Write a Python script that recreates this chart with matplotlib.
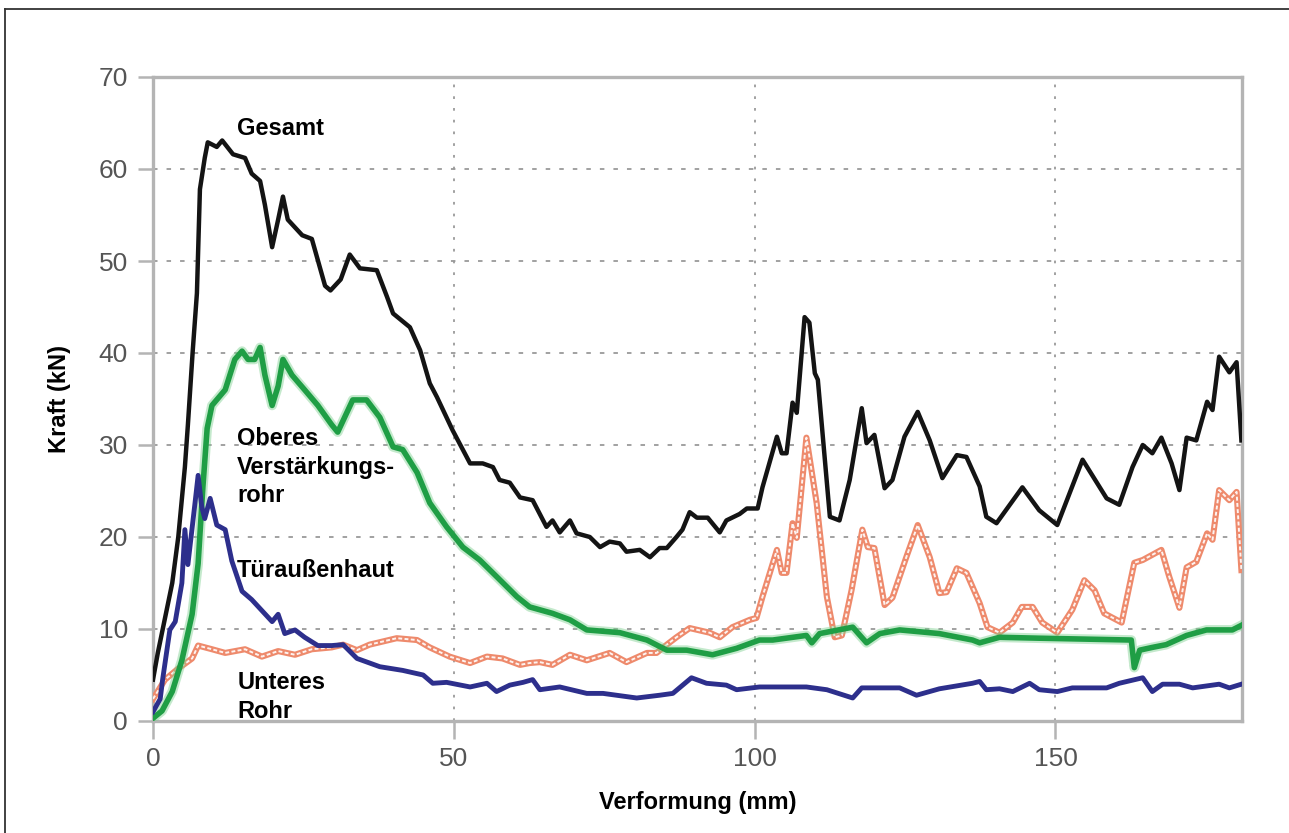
import matplotlib
matplotlib.use("Agg")
import matplotlib.pyplot as plt
from matplotlib.lines import Line2D

# ---------------- data ----------------
gesamt_x = [0, 0.8, 2.0, 3.2, 4.2, 5.3, 5.8, 6.6, 7.3, 7.8, 8.6, 9.1, 10.6, 11.5, 13.3, 15.3,
            16.4, 17.8, 18.6, 19.8, 20.8, 21.6, 22.4, 24.8, 26.4, 28.6, 29.5, 31.2, 32.7, 34.4,
            37.2, 38.9, 39.9, 42.7, 44.4, 46.0, 47.2, 49.8, 52.7, 54.8, 56.5, 57.6, 59.3, 61.0,
            63.1, 65.4, 66.4, 67.6, 69.3, 70.4, 72.6, 74.3, 75.9, 77.6, 78.7, 80.9, 82.6, 84.2,
            85.4, 87.0, 88.0, 89.2, 90.4, 92.2, 94.2, 95.3, 97.5, 98.7, 100.5, 101.3, 103.7,
            104.5, 105.3, 106.3, 107.0, 108.3, 109.1, 110.0, 110.5, 112.5, 114.1, 115.8, 117.8,
            118.6, 119.9, 121.6, 122.9, 124.9, 127.1, 129.1, 131.2, 133.6, 135.2, 137.4, 138.5,
            140.2, 144.5, 147.3, 150.3, 154.5, 158.5, 160.6, 162.8, 164.5, 166.1, 167.6, 169.3,
            170.6, 171.8, 173.4, 175.2, 176.1, 177.2, 178.9, 180.1, 180.9]
gesamt_y = [4.5, 7.4, 11.2, 15.0, 20.0, 27.6, 32.2, 40.2, 46.5, 57.8, 61.2, 62.9, 62.4, 63.1, 61.6, 61.2,
            59.5, 58.7, 56.1, 51.5, 54.5, 57.0, 54.5, 52.8, 52.4, 47.3, 46.8, 48.0, 50.7, 49.2,
            49.0, 46.1, 44.3, 42.8, 40.3, 36.7, 35.2, 31.6, 28.0, 28.0, 27.6, 26.2, 25.9, 24.3,
            24.0, 21.1, 21.8, 20.5, 21.8, 20.4, 20.0, 18.9, 19.5, 19.3, 18.4, 18.6, 17.8, 18.8,
            18.8, 20.0, 20.8, 22.7, 22.1, 22.1, 20.5, 21.8, 22.5, 23.1, 23.1, 25.4, 30.9,
            29.1, 29.1, 34.6, 33.5, 43.9, 43.3, 37.8, 37.1, 22.2, 21.8, 26.2, 34.0,
            30.2, 31.1, 25.3, 26.2, 30.9, 33.6, 30.5, 26.4, 28.9, 28.7, 25.5, 22.2,
            21.5, 25.4, 22.9, 21.3, 28.4, 24.2, 23.5, 27.6, 30.0, 29.1, 30.8, 28.0,
            25.1, 30.8, 30.5, 34.7, 33.8, 39.6, 37.9, 39.0, 30.5]

oberes_x = [0, 1.5, 3.2, 4.8, 6.5, 7.5, 8.3, 9.0, 9.8, 12.0, 13.6, 14.8, 15.8, 16.9, 17.8, 18.6,
            19.8, 20.8, 21.6, 23.1, 25.2, 27.4, 29.7, 30.7, 33.2, 35.5, 37.7, 39.9, 41.5, 43.9,
            46.0, 48.8, 51.5, 54.3, 57.1, 60.5, 62.6, 66.4, 69.3, 72.1, 77.6, 82.1, 85.4, 88.7,
            93.0, 97.0, 100.8, 103.0, 108.6, 109.5, 110.8, 116.3, 118.6, 120.8, 124.1, 130.7,
            136.2, 137.4, 140.7, 147.3, 162.6, 163.1, 164.0, 166.1, 168.4, 171.8, 175.1, 179.4,
            180.9]
oberes_y = [0.3, 1.1, 3.2, 6.6, 11.6, 17.1, 25.5, 31.8, 34.3, 36.0, 39.3, 40.2, 39.3, 39.3, 40.6, 37.6,
            34.3, 36.4, 39.3, 37.6, 36.0, 34.3, 32.2, 31.4, 34.9, 34.9, 33.0, 29.8, 29.5, 27.0,
            23.7, 21.1, 18.9, 17.5, 15.7, 13.5, 12.4, 11.7, 11.0, 9.9, 9.6, 8.8, 7.7, 7.7,
            7.2, 7.9, 8.8, 8.8, 9.3, 8.5, 9.5, 10.2, 8.5, 9.5, 9.9, 9.5,
            8.8, 8.5, 9.1, 9.0, 8.8, 5.8, 7.7, 8.0, 8.3, 9.3, 9.9, 9.9,
            10.4]

tuer_x = [0, 2.0, 4.2, 6.5, 7.5, 9.8, 12.0, 15.3, 18.1, 20.8, 23.6, 26.4, 29.7, 31.6, 33.9, 36.0,
          40.5, 43.9, 46.0, 49.3, 52.7, 55.5, 58.1, 61.0, 62.6, 64.3, 66.4, 69.3, 72.1, 75.9,
          78.7, 82.1, 83.7, 85.4, 87.0, 89.2, 92.5, 94.2, 96.3, 99.2, 100.3, 101.3, 103.7, 104.5,
          105.3, 106.3, 107.0, 108.6, 110.3, 112.0, 113.3, 114.5, 116.1, 117.9, 118.8, 119.9,
          121.6, 122.9, 125.2, 127.1, 129.1, 130.7, 131.9, 133.6, 135.2, 137.4, 138.7, 140.7,
          142.9, 144.4, 146.2, 147.8, 150.3, 152.8, 154.8, 156.5, 158.1, 161.0, 163.1, 164.5,
          167.6, 168.9, 170.6, 171.8, 173.4, 175.2, 176.1, 177.2, 178.9, 180.1, 180.9]
tuer_y = [2.4, 4.5, 5.7, 6.8, 8.2, 7.8, 7.4, 7.8, 7.0, 7.6, 7.2, 7.8, 8.0, 8.3, 7.7, 8.3,
          9.0, 8.8, 8.0, 7.0, 6.3, 7.0, 6.8, 6.1, 6.3, 6.4, 6.1, 7.2, 6.6, 7.4,
          6.4, 7.4, 7.4, 8.3, 9.1, 10.1, 9.6, 9.1, 10.2, 11.0, 11.2, 13.5, 18.6, 16.1,
          16.1, 21.5, 19.9, 30.8, 23.7, 13.5, 9.1, 9.3, 14.2, 20.8, 18.9, 18.8,
          12.6, 13.4, 17.8, 21.3, 17.8, 13.9, 14.0, 16.6, 16.1, 12.8, 10.2, 9.6,
          10.7, 12.4, 12.4, 10.7, 9.6, 12.1, 15.3, 14.2, 11.7, 10.7, 17.2, 17.5,
          18.6, 15.7, 12.3, 16.7, 17.3, 20.4, 19.7, 25.1, 24.0, 24.9, 16.4]

unteres_x = [0, 1.2, 1.6, 2.8, 3.7, 4.8, 5.3, 5.8, 7.0, 7.5, 8.1, 8.6, 9.5, 10.6, 12.0, 13.1,
             14.8, 16.4, 18.1, 19.8, 20.8, 21.9, 23.6, 25.2, 27.4, 29.7, 31.6, 33.9, 37.7, 41.5,
             44.9, 46.5, 48.8, 52.7, 55.5, 57.1, 59.3, 61.5, 63.1, 64.3, 67.6, 72.1, 74.8, 80.4,
             84.2, 86.4, 89.5, 92.0, 95.3, 97.0, 100.8, 108.6, 112.0, 116.3, 117.8, 124.1, 126.9,
             130.7, 136.2, 137.4, 138.5, 140.7, 142.9, 145.7, 147.3, 150.3, 152.8, 158.5, 160.6,
             164.5, 166.1, 167.8, 170.6, 172.8, 177.2, 178.9, 180.9]
unteres_y = [1.0, 2.4, 4.5, 9.9, 10.8, 15.0, 20.8, 17.0, 23.8, 26.7, 23.3, 22.0, 24.2, 21.3, 20.8, 17.4,
             14.1, 13.2, 12.0, 10.8, 11.6, 9.5, 9.9, 9.1, 8.2, 8.2, 8.3, 6.8, 5.9, 5.5,
             5.0, 4.1, 4.2, 3.7, 4.1, 3.2, 3.9, 4.2, 4.5, 3.4, 3.7, 3.0, 3.0, 2.5,
             2.8, 3.0, 4.7, 4.1, 3.9, 3.4, 3.7, 3.7, 3.4, 2.5, 3.6, 3.6, 2.8,
             3.5, 4.1, 4.3, 3.4, 3.5, 3.2, 4.1, 3.4, 3.2, 3.6, 3.6, 4.1,
             4.7, 3.2, 4.0, 4.0, 3.6, 4.0, 3.6, 4.0]

x_ticks = [0, 50, 100, 150]
y_ticks = [0, 10, 20, 30, 40, 50, 60, 70]

# ---------------- figure ----------------
plt.rcParams['font.family'] = ['Liberation Sans', 'DejaVu Sans']
fig = plt.figure(figsize=(12.89, 8.33), dpi=100)
ax = fig.add_axes([153 / 1289, 1 - 721 / 833, (1242 - 153) / 1289, (721 - 77) / 833])

ax.set_xlim(0, 181)
ax.set_ylim(0, 70)

# grid
for yv in y_ticks[1:-1]:
    ax.axhline(yv, color='#9a9a9a', lw=1.3, ls=(0, (2.5, 5)), zorder=1)
for xv in x_ticks[1:]:
    ax.axvline(xv, color='#9a9a9a', lw=1.3, ls=(0, (1.5, 5)), zorder=1)

# series
ax.plot(tuer_x, tuer_y, color='#ee8a6c', lw=4.4, solid_joinstyle='round', zorder=3)
ax.plot(tuer_x, tuer_y, color='white', lw=1.4, ls=(0, (2, 1.2)), alpha=0.9, zorder=3.1)

ax.plot(oberes_x, oberes_y, color='#7cd08f', lw=7.0, alpha=0.45, solid_joinstyle='round', zorder=4)
ax.plot(oberes_x, oberes_y, color='#1f9e45', lw=4.0, solid_joinstyle='round', zorder=4.1)

ax.plot(unteres_x, unteres_y, color='#2d2f8c', lw=3.5, solid_joinstyle='round', zorder=5)

ax.plot(gesamt_x, gesamt_y, color='#141414', lw=3.2, solid_joinstyle='round', zorder=6)

# spines and ticks
for s in ax.spines.values():
    s.set_color('#b4b4b4')
    s.set_linewidth(2.4)
ax.set_xticks(x_ticks)
ax.set_yticks(y_ticks)
ax.tick_params(axis='both', colors='#b4b4b4', width=1.8, labelcolor='#555555', labelsize=19)
ax.tick_params(axis='x', length=13, pad=6)
ax.tick_params(axis='y', length=11, pad=7)

ax.set_xlabel('Verformung (mm)', fontsize=17, fontweight='bold', labelpad=14)
ax.set_ylabel('Kraft (kN)', fontsize=17, fontweight='bold', labelpad=20)

# annotations
tkw = dict(fontsize=17, fontweight='bold', color='black', ha='left', va='center',
           linespacing=1.3, zorder=7)
ax.text(14.0, 64.4, 'Gesamt', **tkw)
ax.text(14.0, 27.6, 'Oberes\nVerstärkungs-\nrohr', **tkw)
ax.text(14.0, 16.4, 'Türaußenhaut', **tkw)
ax.text(14.0, 2.6, 'Unteres\nRohr', **tkw)

# outer frame (left and top edges)
fig.add_artist(Line2D([5 / 1289, 5 / 1289], [0, 1 - 9 / 833], transform=fig.transFigure,
                      color='#333333', lw=1.3))
fig.add_artist(Line2D([5 / 1289, 1], [1 - 9 / 833, 1 - 9 / 833], transform=fig.transFigure,
                      color='#333333', lw=1.3))

fig.savefig('out.png', dpi=100)
